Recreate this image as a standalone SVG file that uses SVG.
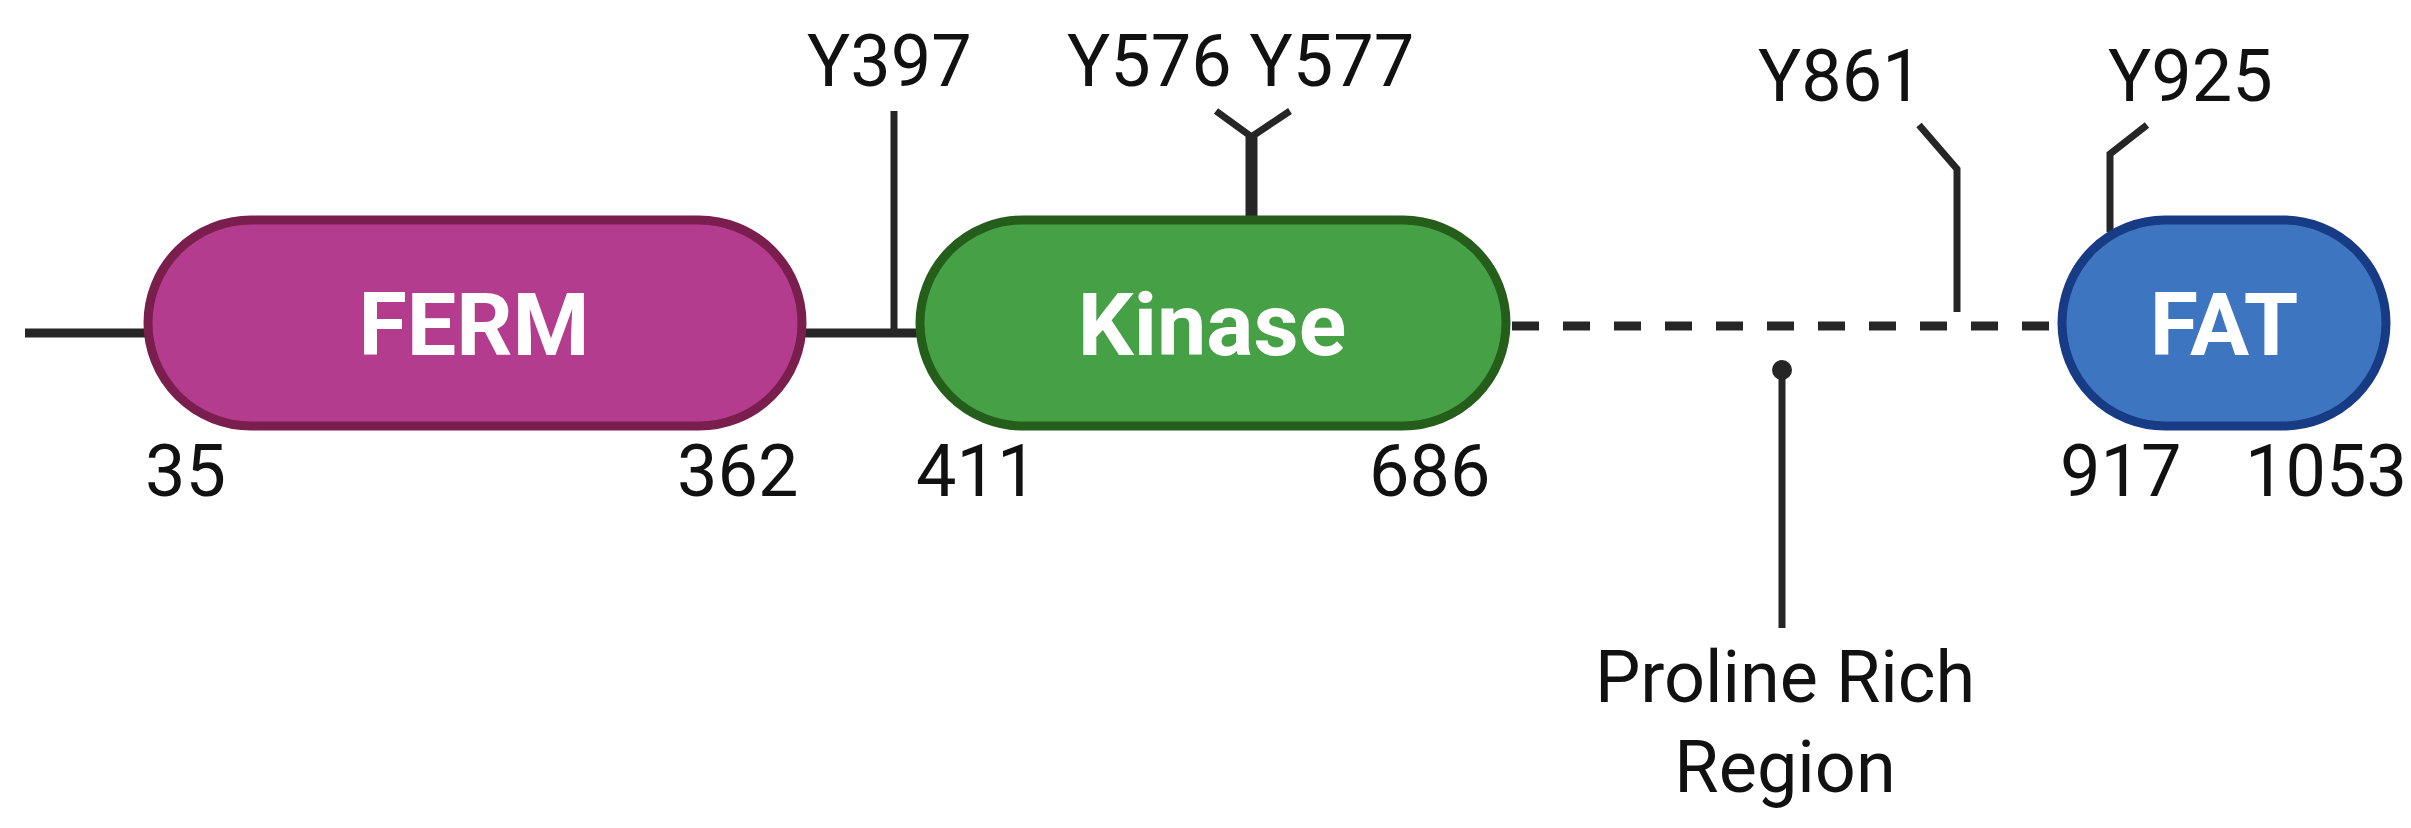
<svg xmlns="http://www.w3.org/2000/svg" width="2411" height="828" viewBox="0 0 2411 828">
<style>
.l{stroke:#262626;stroke-width:7;fill:none}
.t{font-family:Roboto,"Liberation Sans",sans-serif;font-size:72px;fill:#111}
.b{font-family:Roboto,"Liberation Sans",sans-serif;font-weight:bold;font-size:88px;fill:#fff;text-anchor:middle}
.d{stroke-width:9}
</style>
<rect width="2411" height="828" fill="#fff"/>
<g id="connectors">
<line class="l d" x1="25" y1="333" x2="150" y2="333"/>
<line class="l d" x1="800" y1="333" x2="922" y2="333"/>
<line class="l d" x1="1512" y1="326" x2="2055" y2="326" stroke-dasharray="27 24"/>
<line class="l" x1="894" y1="333" x2="894" y2="111"/>
<path class="l" d="M1249 218V135L1216 111M1254 218V135L1290 111" stroke-width="5"/>
<path class="l" d="M1957 312V169L1919 125"/>
<path class="l" d="M2110 232V154L2147 125"/>
<line class="l" x1="1782" y1="370" x2="1782" y2="628"/>
<circle cx="1782" cy="370" r="10" fill="#262626"/>
</g>
<g id="FERM"><rect x="148" y="220" width="654" height="206" rx="103" fill="#b33c8f" stroke="#7a1f4d" stroke-width="9"/><text class="b" x="474" y="355">FERM</text></g>
<g id="Kinase"><rect x="920" y="220" width="586" height="206" rx="103" fill="#46a046" stroke="#255e1a" stroke-width="9"/><text class="b" x="1212" y="355">Kinase</text></g>
<g id="FAT"><rect x="2062" y="220" width="324" height="206" rx="103" fill="#3e75c0" stroke="#173c85" stroke-width="9"/><text class="b" x="2224" y="355">FAT</text></g>
<g id="labels">
<text class="t" x="807" y="86">Y397</text>
<text class="t" x="1067" y="86">Y576 Y577</text>
<text class="t" x="1758" y="101">Y861</text>
<text class="t" x="2108" y="101">Y925</text>
<text class="t" x="145" y="496">35</text>
<text class="t" x="677" y="496">362</text>
<text class="t" x="916" y="496">411</text>
<text class="t" x="1369" y="496">686</text>
<text class="t" x="2060" y="496">917</text>
<text class="t" x="2245" y="496">1053</text>
<text class="t" x="1785" y="702" text-anchor="middle" font-size="64">Proline Rich</text>
<text class="t" x="1785" y="792" text-anchor="middle" font-size="64">Region</text>
</g>
</svg>
